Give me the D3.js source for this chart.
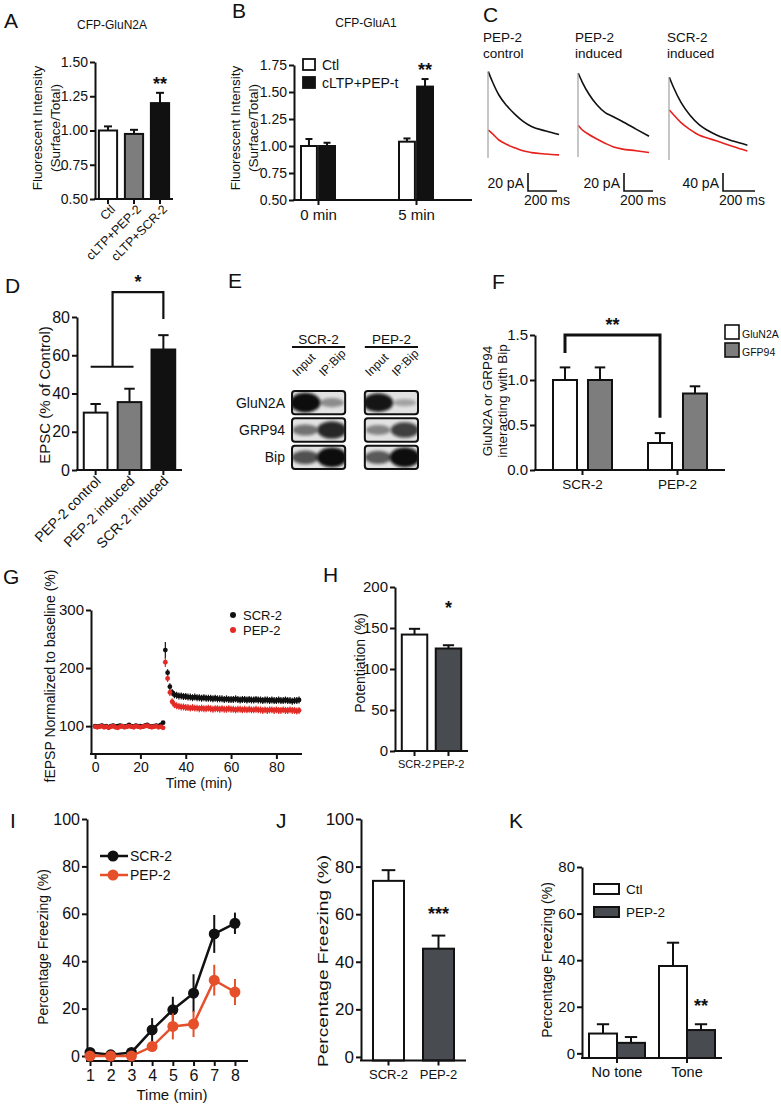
<!DOCTYPE html>
<html>
<head>
<meta charset="utf-8">
<script src="https://cdn.jsdelivr.net/npm/d3@7"></script>
<style>
body { margin: 0; background: #fff; }
</style>
</head>
<body>
<script>
// ---- data ----
// A
var aCats = ["Ctl", "cLTP+PEP-2", "cLTP+SCR-2"];
var aMeans = [1.00, 0.975, 1.20];
var aErr = [0.03, 0.03, 0.075];
var aTicks = [0.50, 0.75, 1.00, 1.25, 1.50];
// B
var bGroups = ["0 min", "5 min"];
var bSeries = ["Ctl", "cLTP+PEP-t"];
var bMeans = [[1.00, 1.00], [1.04, 1.55]];
var bErr = [[0.065, 0.03], [0.03, 0.07]];
var bTicks = [0.50, 0.75, 1.00, 1.25, 1.50, 1.75];
// C (time in ms, current in pA)
var cTitles = [["PEP-2", "control"], ["PEP-2", "induced"], ["SCR-2", "induced"]];
var cBarLabels = ["20 pA", "20 pA", "40 pA"];
var cBarValues = [20, 20, 40];
var cTime = [0, 2, 30, 75, 130, 190, 240, 300, 400, 490];
var cBlack = [
  [0, 96, 85, 70, 58, 48, 41, 35, 30, 26],
  [0, 93, 83, 70, 58, 49, 45, 40, 31, 23],
  [0, 184, 160, 128, 100, 78, 66, 55, 42, 33]
];
var cRed = [
  [0, 31, 27, 20, 15, 11, 8, 6, 4.5, 3.5],
  [0, 35, 30, 25, 20, 15, 11.5, 9, 7, 5],
  [0, 111, 100, 83, 68, 55, 49, 42, 30, 20]
];
// D
var dCats = ["PEP-2 control", "PEP-2 induced", "SCR-2 induced"];
var dMeans = [30, 35.5, 63];
var dErr = [4.5, 7, 7.5];
var dTicks = [0, 20, 40, 60, 80];
// E
var eGroups = ["SCR-2", "PEP-2"];
var eLanes = ["Input", "IP:Bip"];
var eRows = ["GluN2A", "GRP94", "Bip"];
var eBands = [[1.0, 0.25, 0.95, 0.12], [0.4, 0.85, 0.3, 0.7], [0.6, 1.0, 0.55, 1.0]];
// F
var fGroups = ["SCR-2", "PEP-2"];
var fSeries = ["GluN2A", "GFP94"];
var fMeans = [[1.0, 1.0], [0.30, 0.85]];
var fErr = [[0.14, 0.14], [0.11, 0.08]];
var fTicks = [0.0, 0.5, 1.0, 1.5];
// G
var gScr = [100,99,100,101,99,100,98,100,101,99,100,101,100,99,100,102,100,99,101,100,100,99,101,102,100,99,100,101,100,102,106,
  231,192,168,158,154,153,152,152,151,151,150,150,149,150,149,149,148,149,148,148,148,147,148,147,147,147,146,147,146,146,
  146,147,146,145,146,146,145,146,145,145,146,145,145,144,145,145,144,145,144,144,145,144,144,145,144,144,143,144,144,145];
var gPep = [99,98,99,100,98,99,97,99,100,98,97,99,100,98,99,100,99,98,100,99,98,99,100,101,99,98,99,100,98,99,97,
  210,182,158,142,137,135,134,133,133,132,132,131,132,131,131,130,131,130,130,131,130,129,130,130,129,130,129,129,130,129,
  129,128,129,129,128,129,128,129,128,128,129,128,128,127,128,127,128,128,127,128,127,127,128,127,127,128,127,127,126,127];
var gErrBase = 3, gErrPost = 6, gErrPeakScr = 14, gErrPeakPep = 8;
var gXTicks = [0, 20, 40, 60, 80];
var gYTicks = [100, 200, 300];
// H
var hCats = ["SCR-2", "PEP-2"];
var hMeans = [142, 125];
var hErr = [7, 4];
var hTicks = [0, 50, 100, 150, 200];
// I
var iTime = [1, 2, 3, 4, 5, 6, 7, 8];
var iScr = [1.5, 0.5, 1.5, 11, 19.5, 26.5, 51.5, 56];
var iScrErr = [1, 0.5, 1, 5, 5.5, 8, 8, 4.5];
var iPep = [0, 0, 0, 4, 12.5, 13.5, 32, 27];
var iPepErr = [0.5, 0.5, 0.5, 1.5, 5.5, 5.5, 6.5, 5.5];
var iTicks = [0, 20, 40, 60, 80, 100];
// J
var jCats = ["SCR-2", "PEP-2"];
var jMeans = [74, 45.5];
var jErr = [4.5, 5.5];
var jTicks = [0, 20, 40, 60, 80, 100];
// K
var kGroups = ["No tone", "Tone"];
var kSeries = ["Ctl", "PEP-2"];
var kMeans = [[8.5, 4.5], [37.5, 10]];
var kErr = [[4, 2.5], [10, 2.5]];
var kTicks = [0, 20, 40, 60, 80];

// ---- canvas ----
var FONT = "'Liberation Sans', Arial, Helvetica, sans-serif";
var INK = "#111";
var svg = d3.select("body").append("svg")
  .attr("width", 781).attr("height", 1107)
  .style("font-family", FONT);

var defs = svg.append("defs");
defs.append("filter").attr("id", "blur")
  .attr("x", "-50%").attr("y", "-50%").attr("width", "200%").attr("height", "200%")
  .append("feGaussianBlur").attr("stdDeviation", 1.8);

// ---- helpers ----
function styleAxis(sel, fs) {
  sel.attr("font-family", null).attr("font-size", null);
  sel.select(".domain").attr("stroke", INK).attr("stroke-width", 2);
  sel.selectAll(".tick line").attr("stroke", INK).attr("stroke-width", 2);
  sel.selectAll(".tick text").attr("font-size", fs).attr("fill", INK);
}
function yAxis(x, y, ticks, fmt, fs) {
  svg.append("g").attr("transform", "translate(" + x + ",0)")
    .call(d3.axisLeft(y).tickValues(ticks).tickFormat(fmt).tickSize(5).tickSizeOuter(0).tickPadding(2))
    .call(styleAxis, fs);
}
// ticks from a scale, axis line drawn separately from x0 to x1
function xAxis(yPos, x, x0, x1, fs, showLabels, ticks, pad) {
  var ax = d3.axisBottom(x).tickSize(5).tickSizeOuter(0).tickPadding(pad == null ? 4 : pad);
  if (ticks) ax.tickValues(ticks);
  if (!showLabels) ax.tickFormat("");
  var g = svg.append("g").attr("transform", "translate(0," + yPos + ")").call(ax).call(styleAxis, fs);
  g.select(".domain").remove();
  svg.append("line").attr("x1", x0 - 1).attr("x2", x1).attr("y1", yPos).attr("y2", yPos)
    .attr("stroke", INK).attr("stroke-width", 2);
}
function txt(s, x, y, fs, anchor) {
  return svg.append("text").attr("x", x).attr("y", y).attr("font-size", fs)
    .attr("text-anchor", anchor || "start").attr("fill", INK).text(s);
}
function vtxt(s, x, y, fs) {
  return svg.append("text").attr("transform", "translate(" + x + "," + y + ") rotate(-90)")
    .attr("font-size", fs).attr("text-anchor", "middle").attr("fill", INK).text(s);
}
function rotLabels(cats, x, yPos, dx, fs) {
  cats.forEach(function(c) {
    svg.append("text")
      .attr("transform", "translate(" + (x(c) + x.bandwidth() / 2 + dx) + "," + yPos + ") rotate(-45)")
      .attr("text-anchor", "end").attr("font-size", fs).attr("fill", INK).text(c);
  });
}
function drawBars(items, y, base) {
  items.forEach(function(d) {
    var cx = d.x + d.w / 2;
    svg.append("line").attr("x1", cx).attr("x2", cx)
      .attr("y1", y(d.v)).attr("y2", y(d.v + d.e))
      .attr("stroke", INK).attr("stroke-width", 2);
    svg.append("line").attr("x1", cx - d.w * 0.22).attr("x2", cx + d.w * 0.22)
      .attr("y1", y(d.v + d.e)).attr("y2", y(d.v + d.e))
      .attr("stroke", INK).attr("stroke-width", 2);
    svg.append("rect").attr("x", d.x).attr("y", y(d.v))
      .attr("width", d.w).attr("height", y(base) - y(d.v))
      .attr("fill", d.fill).attr("stroke", INK).attr("stroke-width", 2);
  });
}
function bracket(pts, w) {
  svg.append("path").attr("d", d3.line()(pts)).attr("fill", "none")
    .attr("stroke", INK).attr("stroke-width", w).attr("stroke-linejoin", "miter");
}
function star(s, x, y, fs) {
  txt(s, x, y, fs || 18, "middle").attr("font-weight", "bold");
}

var WHITE = "#fff", GREY = "#7d7d7d", DARK = "#484b4f", BLACK = "#111";

// ---- panel letters ----
[["A", 4, 28], ["B", 232, 18], ["C", 483, 22], ["D", 5, 293], ["E", 228, 288], ["F", 492, 289],
 ["G", 3, 584], ["H", 323, 582], ["I", 10, 828], ["J", 276, 828], ["K", 509, 828]].forEach(function(l) {
  txt(l[0], l[1], l[2], 21);
});

// ---- A ----
var yA = d3.scaleLinear().domain([0.5, 1.5]).range([199, 62]);
var xA = d3.scaleBand().domain(aCats).range([95, 173]).paddingInner(0.3).paddingOuter(0.15);
var aFill = [WHITE, GREY, BLACK];
drawBars(aCats.map(function(c, i) {
  return {x: xA(c), w: xA.bandwidth(), v: aMeans[i], e: aErr[i], fill: aFill[i]};
}), yA, 0.5);
yAxis(95, yA, aTicks, d3.format(".2f"), 14);
xAxis(199, xA, 95, 173, 12, false);
rotLabels(aCats, xA, 210, 8, 12.5);
txt("CFP-GluN2A", 112, 29, 12, "middle");
vtxt("Fluorescent Intensity", 42, 128, 13.5);
vtxt("(Surface/Total)", 60, 128, 13.5);
star("**", xA("cLTP+SCR-2") + xA.bandwidth() / 2, 90);

// ---- B ----
var yB = d3.scaleLinear().domain([0.5, 1.75]).range([200, 65]);
var xB = d3.scalePoint().domain(bGroups).range([318, 416]);
var xBin = d3.scaleBand().domain(bSeries).range([-17, 17]).paddingInner(0.12);
var bFill = [WHITE, BLACK];
var bItems = [];
bGroups.forEach(function(g, gi) {
  bSeries.forEach(function(s, si) {
    bItems.push({x: xB(g) + xBin(s), w: xBin.bandwidth(), v: bMeans[gi][si], e: bErr[gi][si], fill: bFill[si]});
  });
});
drawBars(bItems, yB, 0.5);
yAxis(294, yB, bTicks, d3.format(".2f"), 14);
xAxis(200, xB, 294, 472, 15, true);
txt("CFP-GluA1", 366, 27, 12, "middle");
vtxt("Fluorescent Intensity", 240, 128, 13.5);
vtxt("(Surface/Total)", 258, 128, 13.5);
bSeries.forEach(function(s, i) {
  svg.append("rect").attr("x", 303).attr("y", 59 + i * 18).attr("width", 12).attr("height", 11)
    .attr("fill", bFill[i]).attr("stroke", INK).attr("stroke-width", 1.8);
  txt(s, 322, 70 + i * 18, 14);
});
star("**", xB("5 min") + xBin("cLTP+PEP-t") + xBin.bandwidth() / 2, 76);

// ---- C ----
var cStart = [488, 578, 669];
var cBase = [158, 157, 160];
var cPxPerPa = [0.9, 0.9, 0.45];
var cPxPer200 = [29, 29, 32];
var cBarX = [528, 624, 723];
var cTitleX = [483, 575, 667];
cTitles.forEach(function(t, k) {
  txt(t[0], cTitleX[k], 42, 13.5);
  txt(t[1], cTitleX[k], 58, 13.5);
  var tx = d3.scaleLinear().domain([0, 200]).range([cStart[k], cStart[k] + cPxPer200[k]]);
  var ty = d3.scaleLinear().domain([0, 100]).range([cBase[k], cBase[k] - 100 * cPxPerPa[k]]);
  var line = d3.line().curve(d3.curveMonotoneX).x(function(d) { return tx(d[0]); }).y(function(d) { return ty(d[1]); });
  var red = cTime.map(function(t, i) { return [t, cRed[k][i]]; }).slice(1);
  var blk = cTime.map(function(t, i) { return [t, cBlack[k][i]]; }).slice(1);
  svg.append("path").attr("d", line(red)).attr("fill", "none").attr("stroke", "#e8201c").attr("stroke-width", 1.6);
  svg.append("path").attr("d", line(blk)).attr("fill", "none").attr("stroke", INK).attr("stroke-width", 1.6);
  svg.append("line").attr("x1", tx(0)).attr("x2", tx(0)).attr("y1", ty(0)).attr("y2", ty(cBlack[k][1]))
    .attr("stroke", "#a0a0a0").attr("stroke-width", 1.2);
  // scale bars
  var bx = cBarX[k], by = 191;
  var vLen = ty(0) - ty(cBarValues[k]);
  var hLen = tx(200) - tx(0);
  bracket([[bx, by - vLen], [bx, by], [bx + hLen, by]], 1.6);
  txt(cBarLabels[k], bx - 4, 188, 14, "end");
  txt("200 ms", bx - 4, 205, 14);
});

// ---- D ----
var yD = d3.scaleLinear().domain([0, 80]).range([470, 317]);
var xD = d3.scaleBand().domain(dCats).range([77, 182]).paddingInner(0.3).paddingOuter(0.2);
var dFill = [WHITE, GREY, BLACK];
drawBars(dCats.map(function(c, i) {
  return {x: xD(c), w: xD.bandwidth(), v: dMeans[i], e: dErr[i], fill: dFill[i]};
}), yD, 0);
yAxis(77, yD, dTicks, d3.format("d"), 16);
xAxis(470, xD, 77, 182, 12, false);
rotLabels(dCats, xD, 482, 6, 14);
vtxt("EPSC (% of Control)", 50, 395, 15);
var dc = dCats.map(function(c) { return xD(c) + xD.bandwidth() / 2; });
bracket([[dc[0] - 5, yD(54)], [dc[1] + 4, yD(54)]], 2.2);
var dMid = (dc[0] + dc[1]) / 2;
bracket([[dMid, yD(54)], [dMid, yD(93)], [dc[2], yD(93)], [dc[2], yD(79)]], 2.2);
star("*", (dMid + dc[2]) / 2, 288);

// ---- E ----
var xE = d3.scaleBand().domain(eGroups).range([292, 418]).paddingInner(0.27);
var xLane = d3.scaleBand().domain(eLanes).range([0, xE.bandwidth()]);
var yE = d3.scaleBand().domain(eRows).range([391, 469]).paddingInner(0.15);
eGroups.forEach(function(g, gi) {
  txt(g, xE(g) + xE.bandwidth() / 2, 344, 13.5, "middle");
  svg.append("line").attr("x1", xE(g)).attr("x2", xE(g) + xE.bandwidth())
    .attr("y1", 347).attr("y2", 347).attr("stroke", INK).attr("stroke-width", 1.8);
  eLanes.forEach(function(l) {
    svg.append("text")
      .attr("transform", "translate(" + (xE(g) + xLane(l) + xLane.bandwidth() / 2 - 8) + ",377) rotate(-45)")
      .attr("font-size", 12).attr("fill", INK).text(l);
  });
  eRows.forEach(function(r, ri) {
    var id = "clip" + gi + ri;
    defs.append("clipPath").attr("id", id).append("rect")
      .attr("x", xE(g)).attr("y", yE(r)).attr("width", xE.bandwidth()).attr("height", yE.bandwidth()).attr("rx", 3);
    var box = svg.append("g").attr("clip-path", "url(#" + id + ")");
    box.append("rect").attr("x", xE(g)).attr("y", yE(r)).attr("width", xE.bandwidth()).attr("height", yE.bandwidth())
      .attr("fill", "#e2e2e2");
    eLanes.forEach(function(l, li) {
      var v = eBands[ri][gi * 2 + li];
      box.append("ellipse")
        .attr("cx", xE(g) + xLane(l) + xLane.bandwidth() / 2)
        .attr("cy", yE(r) + yE.bandwidth() / 2)
        .attr("rx", xLane.bandwidth() * (0.42 + 0.15 * v))
        .attr("ry", yE.bandwidth() * (0.12 + 0.3 * v))
        .attr("fill", "#0c0c0c").attr("opacity", 0.2 + 0.8 * v)
        .attr("filter", "url(#blur)");
    });
    svg.append("rect").attr("x", xE(g)).attr("y", yE(r)).attr("width", xE.bandwidth()).attr("height", yE.bandwidth())
      .attr("rx", 3).attr("fill", "none").attr("stroke", INK).attr("stroke-width", 2);
  });
});
eRows.forEach(function(r) {
  txt(r, 285, yE(r) + yE.bandwidth() / 2 + 5, 14, "end");
});

// ---- F ----
var yF = d3.scaleLinear().domain([0, 1.5]).range([470, 335]);
var xF = d3.scaleBand().domain(fGroups).range([535, 725]);
var xFin = d3.scaleBand().domain(fSeries).range([-29.5, 29.5]).paddingInner(0.314);
var fFill = [WHITE, GREY];
var fItems = [];
fGroups.forEach(function(g, gi) {
  fSeries.forEach(function(s, si) {
    fItems.push({x: xF(g) + xF.bandwidth() / 2 + xFin(s), w: xFin.bandwidth(), v: fMeans[gi][si], e: fErr[gi][si], fill: fFill[si]});
  });
});
drawBars(fItems, yF, 0);
yAxis(535, yF, fTicks, d3.format(".1f"), 15);
xAxis(470, xF, 535, 725, 13.5, true);
vtxt("GluN2A or GRP94", 492, 401, 13.5);
vtxt("interacting with Bip", 507, 401, 13.5);
var f1 = fItems[0].x + fItems[0].w / 2, f2 = fItems[2].x + fItems[2].w / 2;
bracket([[f1, yF(1.3)], [f1, yF(1.5)], [f2, yF(1.5)], [f2, yF(0.58)]], 3);
star("**", (f1 + f2) / 2, 331);
fSeries.forEach(function(s, i) {
  svg.append("rect").attr("x", 725).attr("y", 325 + i * 18).attr("width", 14).attr("height", 14)
    .attr("fill", fFill[i]).attr("stroke", INK).attr("stroke-width", 1.6);
  txt(s, 742, 338 + i * 18, 10.5);
});

// ---- G ----
var xG = d3.scaleLinear().domain([-1.8, 91.3]).range([91, 302]);
var yG = d3.scaleLinear().domain([52, 300]).range([754, 610]);
yAxis(91, yG, gYTicks, d3.format("d"), 15);
xAxis(754, xG, 91, 302, 14, true, gXTicks, 3);
function gSeries(vals, color, peakErr) {
  var pts = vals.map(function(v, i) {
    var e = i < 31 ? gErrBase : (i === 31 ? peakErr : gErrPost);
    return {t: i, v: v, e: e};
  });
  svg.append("g").selectAll("line").data(pts).enter().append("line")
    .attr("x1", function(d) { return xG(d.t); }).attr("x2", function(d) { return xG(d.t); })
    .attr("y1", function(d) { return yG(d.v - d.e); }).attr("y2", function(d) { return yG(d.v + d.e); })
    .attr("stroke", color).attr("stroke-width", 1.2);
  svg.append("g").selectAll("circle").data(pts).enter().append("circle")
    .attr("cx", function(d) { return xG(d.t); }).attr("cy", function(d) { return yG(d.v); })
    .attr("r", 2.4).attr("fill", color);
}
gSeries(gScr, INK, gErrPeakScr);
gSeries(gPep, "#e32b26", gErrPeakPep);
vtxt("fEPSP Normalized to baseline (%)", 55, 676, 14);
txt("Time (min)", 199, 788, 14, "middle");
[["SCR-2", INK], ["PEP-2", "#e32b26"]].forEach(function(l, i) {
  svg.append("circle").attr("cx", 233).attr("cy", 615 + i * 15).attr("r", 3).attr("fill", l[1]);
  txt(l[0], 243, 620 + i * 15, 13);
});

// ---- H ----
var yH = d3.scaleLinear().domain([0, 200]).range([751, 587]);
var xH = d3.scaleBand().domain(hCats).range([395, 468]).paddingInner(0.25).paddingOuter(0.2);
var hFill = [WHITE, DARK];
drawBars(hCats.map(function(c, i) {
  return {x: xH(c), w: xH.bandwidth(), v: hMeans[i], e: hErr[i], fill: hFill[i]};
}), yH, 0);
yAxis(395, yH, hTicks, d3.format("d"), 15);
xAxis(751, xH, 395, 468, 11, true);
vtxt("Potentiation (%)", 365, 663, 14);
star("*", xH("PEP-2") + xH.bandwidth() / 2, 614);

// ---- I ----
var xI = d3.scaleLinear().domain([0.855, 8.63]).range([87, 248]);
var yI = d3.scaleLinear().domain([-2.1, 100]).range([1061, 819]);
yAxis(87, yI, iTicks, d3.format("d"), 16);
xAxis(1061, xI, 87, 248, 16, true, iTime);
var ORANGE = "#e5502a";
function iSeries(vals, errs, color) {
  var pts = iTime.map(function(t, i) { return [t, vals[i], errs[i]]; });
  svg.append("path").attr("d", d3.line().x(function(d) { return xI(d[0]); }).y(function(d) { return yI(d[1]); })(pts))
    .attr("fill", "none").attr("stroke", color).attr("stroke-width", 2.5);
  pts.forEach(function(d) {
    svg.append("line").attr("x1", xI(d[0])).attr("x2", xI(d[0]))
      .attr("y1", yI(d[1] - d[2])).attr("y2", yI(d[1] + d[2]))
      .attr("stroke", color).attr("stroke-width", 2);
    svg.append("circle").attr("cx", xI(d[0])).attr("cy", yI(d[1])).attr("r", 5.5).attr("fill", color);
  });
}
iSeries(iScr, iScrErr, INK);
iSeries(iPep, iPepErr, ORANGE);
[["SCR-2", INK], ["PEP-2", ORANGE]].forEach(function(l, i) {
  var ly = 856 + i * 19;
  svg.append("line").attr("x1", 100).attr("x2", 128).attr("y1", ly).attr("y2", ly)
    .attr("stroke", l[1]).attr("stroke-width", 2.5);
  svg.append("circle").attr("cx", 113).attr("cy", ly).attr("r", 5.5).attr("fill", l[1]);
  txt(l[0], 130, ly + 5, 14);
});
vtxt("Percentage Freezing (%)", 48, 947, 14);
txt("Time (min)", 172, 1100, 15, "middle");

// ---- J ----
var yJ = d3.scaleLinear().domain([-1.5, 100]).range([1060.5, 819]);
var xJ = d3.scaleBand().domain(jCats).range([361, 466]).paddingInner(0.38).paddingOuter(0.24);
var jFill = [WHITE, DARK];
drawBars(jCats.map(function(c, i) {
  return {x: xJ(c), w: xJ.bandwidth(), v: jMeans[i], e: jErr[i], fill: jFill[i]};
}), yJ, -1.5);
yAxis(361, yJ, jTicks, d3.format("d"), 17);
xAxis(1060.5, xJ, 361, 466, 13, true);
vtxt("Percentage Freezing (%)", 328, 961, 15).attr("textLength", 212).attr("lengthAdjust", "spacingAndGlyphs");
star("***", xJ("PEP-2") + xJ.bandwidth() / 2, 920);

// ---- K ----
var yK = d3.scaleLinear().domain([-2, 80]).range([1058, 867]);
var xK = d3.scaleBand().domain(kGroups).range([582, 722]);
var xKin = d3.scaleBand().domain(kSeries).range([-28, 28]);
var kFill = [WHITE, DARK];
var kItems = [];
kGroups.forEach(function(g, gi) {
  kSeries.forEach(function(s, si) {
    kItems.push({x: xK(g) + xK.bandwidth() / 2 + xKin(s), w: xKin.bandwidth(), v: kMeans[gi][si], e: kErr[gi][si], fill: kFill[si]});
  });
});
drawBars(kItems, yK, -2);
yAxis(582, yK, kTicks, d3.format("d"), 15);
xAxis(1058, xK, 582, 722, 14.5, true);
vtxt("Percentage Freezing (%)", 552, 960, 14);
kSeries.forEach(function(s, i) {
  svg.append("rect").attr("x", 594).attr("y", 884 + i * 23).attr("width", 25).attr("height", 10)
    .attr("fill", kFill[i]).attr("stroke", INK).attr("stroke-width", 2);
  txt(s, 626, 894 + i * 23, 13.5);
});
star("**", kItems[3].x + kItems[3].w / 2, 1012);
</script>
</body>
</html>
